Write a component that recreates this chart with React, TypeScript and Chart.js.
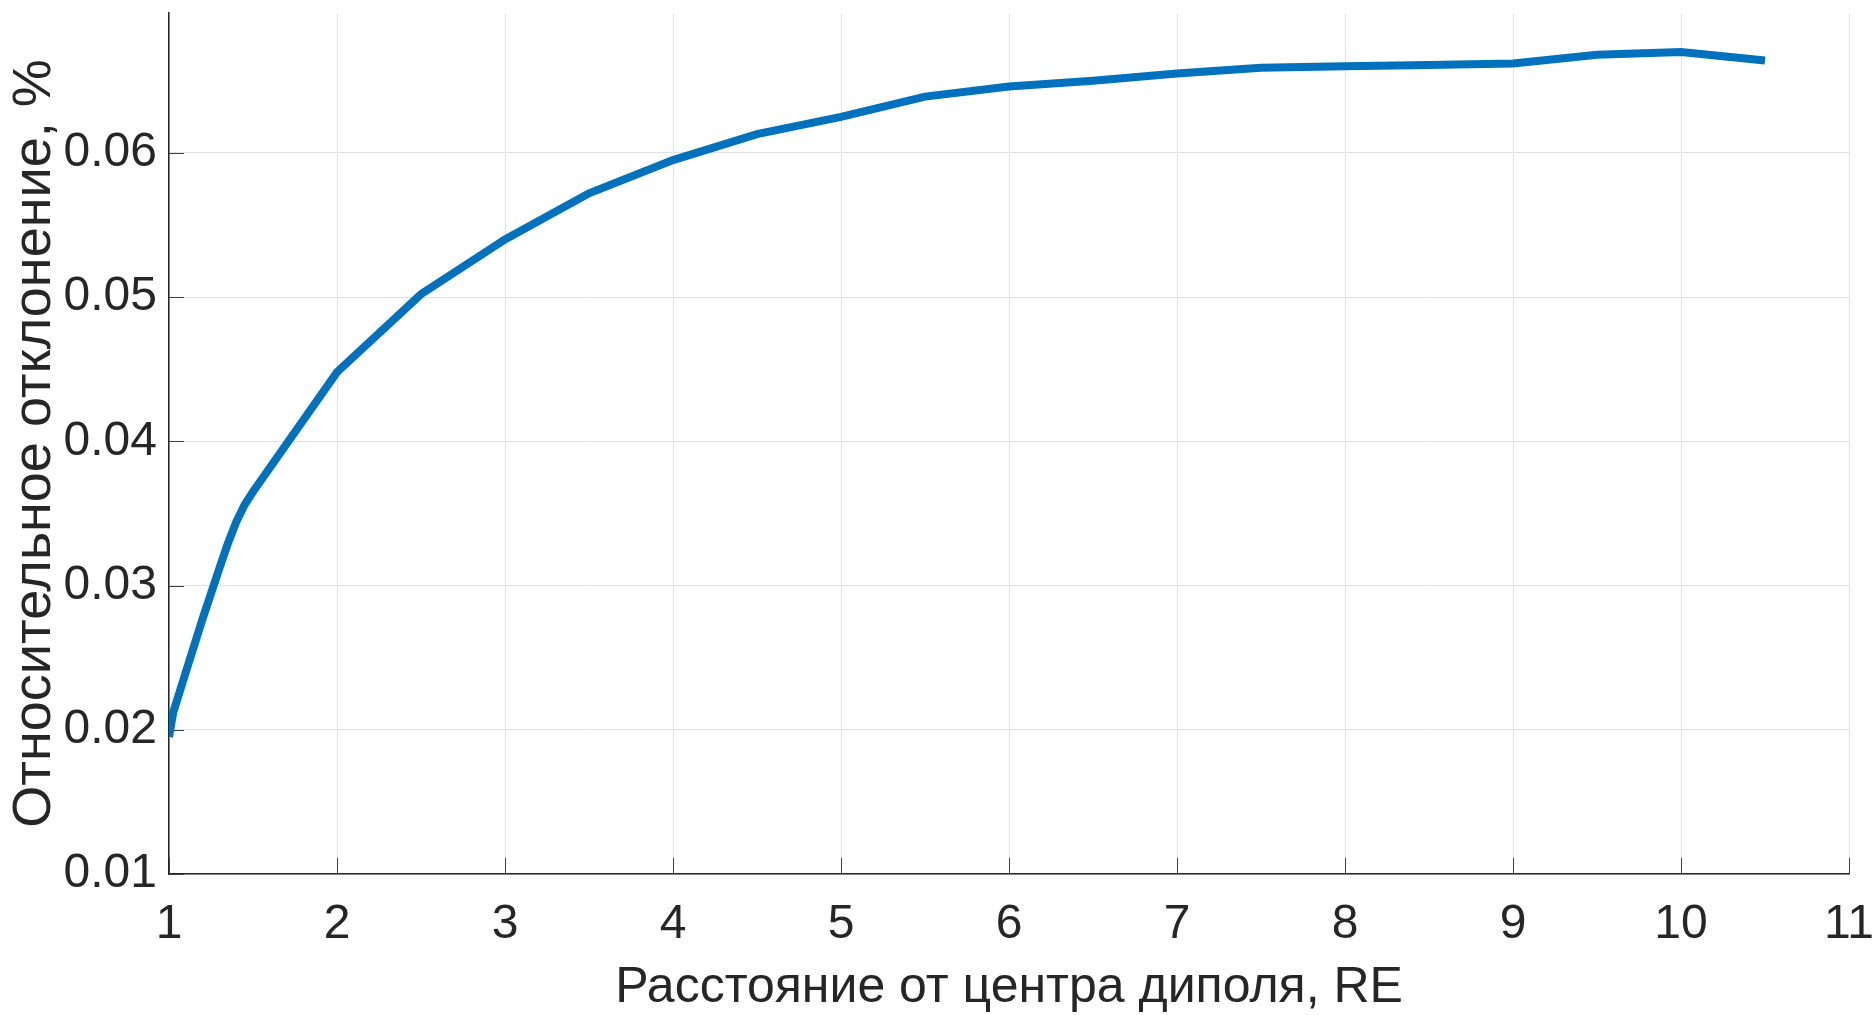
import React, { useEffect, useRef } from 'react';
import { Chart, registerables } from 'chart.js';

Chart.register(...registerables);

// ---- data ----
const distanceRE = [1, 1.025, 1.1, 1.2, 1.3, 1.35, 1.4, 1.45, 1.5, 2, 2.5, 3, 3.5, 4, 4.5, 5, 5.5, 6, 6.5, 7, 7.5, 8, 8.5, 9, 9.5, 10, 10.5];
const relDeviation = [0.0195, 0.0212, 0.024, 0.0277, 0.0312, 0.0329, 0.0344, 0.0356, 0.0365, 0.0448, 0.0502, 0.054, 0.0572, 0.0595, 0.0613, 0.0625, 0.0639, 0.0646, 0.065, 0.0655, 0.0659, 0.066, 0.0661, 0.0662, 0.0668, 0.067, 0.0664];
const xTicks = [1, 2, 3, 4, 5, 6, 7, 8, 9, 10, 11];
const xTickLabels = ['1', '2', '3', '4', '5', '6', '7', '8', '9', '10', '11'];
const yTicks = [0.01, 0.02, 0.03, 0.04, 0.05, 0.06];
const yTickLabels = ['0.01', '0.02', '0.03', '0.04', '0.05', '0.06'];
const xTitle = 'Расстояние от центра диполя, RE';
const yTitle = 'Относительное отклонение, %';

const FONT = '"Liberation Sans", Arial, sans-serif';
const AXIS_COLOR = '#262626';
const GRID_COLOR = '#e1e1e1';

const innerTicks = {
  id: 'innerTicks',
  beforeDatasetsDraw(chart: any) {
    const { ctx, chartArea, scales } = chart;
    ctx.save();
    ctx.strokeStyle = '#404040';
    ctx.lineWidth = 1;
    const xs = scales.x;
    const ys = scales.y;
    xTicks.forEach((v) => {
      const px = Math.round(xs.getPixelForValue(v)) + 0.5;
      ctx.beginPath();
      ctx.moveTo(px, chartArea.bottom);
      ctx.lineTo(px, chartArea.bottom - 16);
      ctx.stroke();
    });
    yTicks.forEach((v) => {
      const py = Math.round(ys.getPixelForValue(v)) + 0.5;
      ctx.beginPath();
      ctx.moveTo(chartArea.left, py);
      ctx.lineTo(chartArea.left + 15, py);
      ctx.stroke();
    });
    ctx.restore();
  },
};

export default function App() {
  const canvasRef = useRef<HTMLCanvasElement | null>(null);

  useEffect(() => {
    const canvas = canvasRef.current;
    if (!canvas) return;
    const chart = new Chart(canvas, {
      type: 'line',
      data: {
        datasets: [
          {
            data: distanceRE.map((x, i) => ({ x, y: relDeviation[i] })),
            borderColor: '#0072BD',
            borderWidth: 8,
            borderCapStyle: 'butt',
            borderJoinStyle: 'miter',
            pointRadius: 0,
            tension: 0,
            fill: false,
          },
        ],
      },
      plugins: [innerTicks],
      options: {
        animation: false,
        responsive: false,
        devicePixelRatio: 1,
        layout: { padding: { left: 0, right: 26, top: 13, bottom: 0 } },
        plugins: {
          legend: { display: false },
          tooltip: { enabled: false },
        },
        scales: {
          x: {
            type: 'linear',
            min: 1,
            max: 11,
            afterBuildTicks: (scale: any) => {
              scale.ticks = xTicks.map((v) => ({ value: v }));
            },
            afterFit: (scale: any) => {
              scale.height = 141;
              scale.paddingLeft = 0;
              scale.paddingRight = 0;
            },
            ticks: {
              autoSkip: false,
              maxRotation: 0,
              minRotation: 0,
              padding: 22,
              color: AXIS_COLOR,
              font: { family: FONT, size: 48 },
              callback: (v: any) => {
                const i = xTicks.indexOf(Number(v));
                return i >= 0 ? xTickLabels[i] : '';
              },
            },
            grid: { color: GRID_COLOR, lineWidth: 1, drawTicks: false },
            border: { display: true, color: AXIS_COLOR, width: 1.5 },
            title: {
              display: true,
              text: xTitle,
              color: AXIS_COLOR,
              font: { family: FONT, size: 50, lineHeight: 1 },
              padding: { top: 0, bottom: 2 },
            },
          },
          y: {
            type: 'linear',
            min: 0.01,
            max: 0.0697,
            afterBuildTicks: (scale: any) => {
              scale.ticks = yTicks.map((v) => ({ value: v }));
            },
            afterFit: (scale: any) => {
              scale.width = 169;
              scale.paddingTop = 0;
              scale.paddingBottom = 0;
            },
            ticks: {
              autoSkip: false,
              padding: 12,
              color: AXIS_COLOR,
              font: { family: FONT, size: 48 },
              callback: (v: any) => {
                const i = yTicks.findIndex((t) => Math.abs(t - Number(v)) < 1e-9);
                return i >= 0 ? yTickLabels[i] : '';
              },
            },
            grid: { color: GRID_COLOR, lineWidth: 1, drawTicks: false },
            border: { display: true, color: AXIS_COLOR, width: 1.5 },
            title: {
              display: true,
              text: yTitle,
              color: AXIS_COLOR,
              font: { family: FONT, size: 54, lineHeight: 1 },
              padding: { top: 8, bottom: 0 },
            },
          },
        },
      },
    } as any);
    return () => chart.destroy();
  }, []);

  return (
    <div style={{ position: 'fixed', left: 0, top: 0, width: 1875, height: 1015, background: '#fff' }}>
      <canvas ref={canvasRef} width={1875} height={1015} style={{ width: 1875, height: 1015, display: 'block' }} />
    </div>
  );
}
